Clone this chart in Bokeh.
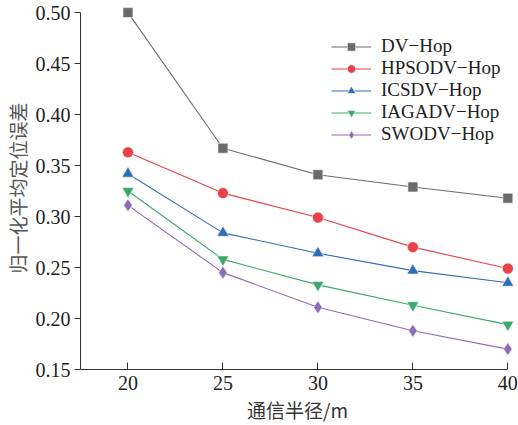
from bokeh.plotting import figure
from bokeh.models import Range1d, Legend, LegendItem, FixedTicker, PrintfTickFormatter
from bokeh.embed import file_html
from bokeh.resources import INLINE

radius = [20, 25, 30, 35, 40]
dv_hop = [0.500, 0.367, 0.341, 0.329, 0.318]
hpsodv_hop = [0.363, 0.323, 0.299, 0.270, 0.249]
icsdv_hop = [0.342, 0.284, 0.264, 0.247, 0.235]
iagadv_hop = [0.325, 0.258, 0.233, 0.213, 0.194]
swodv_hop = [0.311, 0.245, 0.211, 0.188, 0.170]
series_names = ["DV\u2212Hop", "HPSODV\u2212Hop", "ICSDV\u2212Hop", "IAGADV\u2212Hop", "SWODV\u2212Hop"]
y_ticks = [0.15, 0.20, 0.25, 0.30, 0.35, 0.40, 0.45, 0.50]
x_ticks = [20, 25, 30, 35, 40]

series = [dv_hop, hpsodv_hop, icsdv_hop, iagadv_hop, swodv_hop]
colors = ["#6b6b6b", "#e8414a", "#2f6cba", "#3aa86a", "#8d6bb8"]
markers = ["square", "circle", "triangle", "inverted_triangle", "diamond"]
msizes = [10, 11, 12, 12, 13]

serif = "Liberation Serif"
cjk = "Noto Sans CJK SC"

p = figure(width=518, height=425, output_backend="svg", toolbar_location=None,
           x_range=Range1d(17.5, 40.35), y_range=Range1d(0.15, 0.506),
           min_border_left=79, min_border_right=4, min_border_top=6, min_border_bottom=56,
           x_axis_label="通信半径/m", y_axis_label="归一化平均定位误差")
p.outline_line_color = None
p.xgrid.grid_line_color = None
p.ygrid.grid_line_color = None
p.background_fill_color = "white"
p.border_fill_color = "white"

xa = p.xaxis[0]
xa.ticker = FixedTicker(ticks=x_ticks)
xa.bounds = (17.5, 40)
xa.major_tick_in = 7
xa.major_tick_out = 0
xa.minor_tick_line_color = None
xa.major_label_text_font = serif
xa.major_label_text_font_size = "20px"
xa.major_label_text_color = "#222222"
xa.major_label_standoff = 6
xa.axis_label_text_font = cjk
xa.axis_label_text_font_size = "19px"
xa.axis_label_text_font_style = "normal"
xa.axis_label_text_color = "#333333"
xa.axis_label_standoff = 3
xa.axis_line_color = "#333333"
xa.major_tick_line_color = "#333333"

ya = p.yaxis[0]
ya.ticker = FixedTicker(ticks=y_ticks)
ya.bounds = (0.15, 0.50)
ya.major_tick_in = 0
ya.major_tick_out = 6
ya.minor_tick_line_color = None
ya.major_label_text_font = serif
ya.major_label_text_font_size = "20px"
ya.major_label_text_color = "#222222"
ya.major_label_standoff = 4
ya.formatter = PrintfTickFormatter(format="%.2f")
ya.axis_label_text_font = cjk
ya.axis_label_text_font_size = "19px"
ya.axis_label_text_font_style = "normal"
ya.axis_label_text_color = "#555555"
ya.axis_label_standoff = 2
ya.axis_line_color = "#333333"
ya.major_tick_line_color = "#333333"

items = []
for name, vals, c, m, s in zip(series_names, series, colors, markers, msizes):
    r1 = p.line(radius, vals, line_color=c, line_width=1.1)
    r2 = p.scatter(radius, vals, marker=m, size=s, fill_color=c, line_color="white", line_width=0.6)
    items.append(LegendItem(label=name, renderers=[r1, r2]))

legend = Legend(items=items)
legend.border_line_color = None
legend.background_fill_alpha = 0
legend.label_text_font = serif
legend.label_text_font_size = "19px"
legend.label_text_color = "#222222"
legend.glyph_width = 40
legend.label_standoff = 10
legend.spacing = 0
legend.label_height = 21
legend.glyph_height = 21
legend.margin = 0
legend.padding = 0
p.add_layout(legend)
legend.location = (251, 224)

open("out.html", "w").write(file_html(p, INLINE))
